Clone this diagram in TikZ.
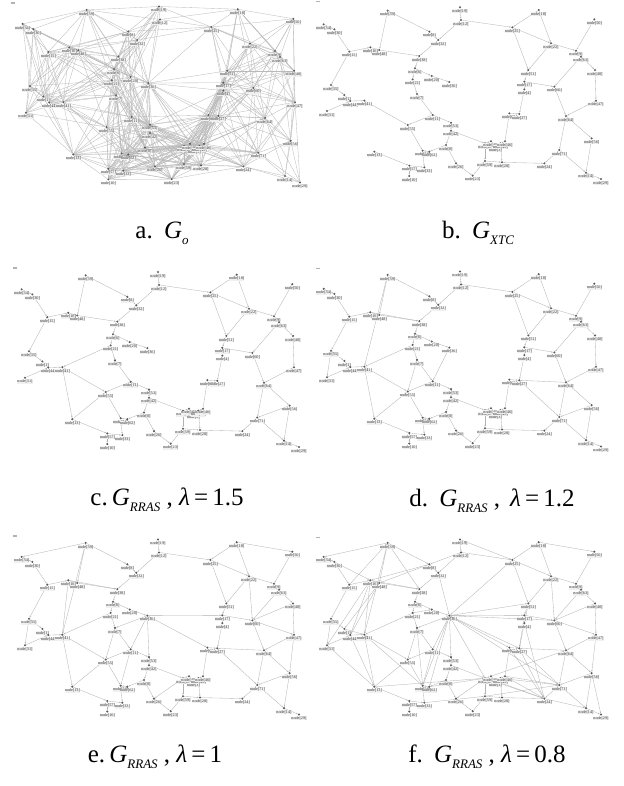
\documentclass[tikz,border=0pt]{standalone}
\usepackage{fontspec}
\setmainfont{Liberation Serif}
\usetikzlibrary{arrows.meta}
\pgfdeclarelayer{bg}
\pgfsetlayers{bg,main}
\newcommand\capsub[1]{\raisebox{-0.24em}{\fontsize{13}{13}\selectfont\itshape #1}}
\def\NL{19/447/22, 12/450/60, 25/604/82, 18/683/30, 39/230/32, 34/38/73, 30/70/88, 8/355/95, 32/382/120, 15/115/155, 16/178/142, 48/205/150, 38/325/168, 6/312/205, 20/362/228, 21/305/238, 36/415/246, 7/318/282, 35/60/255, 1/100/285, 44/118/303, 41/160/302, 31/48/333, 11/365/345, 55/290/375, 53/420/368, 42/420/392, 0/405/435, 52/335/452, 62/355/455, 26/435/490, 13/190/455, 57/295/497, 33/340/502, 10/295/528, 23/485/527, 59/522/483, 28/573/487, 24/700/490, 2/522/430, 45/540/424, 3/553/438, 43/568/430, 46/582/424, 65/595/340, 27/625/342, 51/652/210, 17/640/245, 4/640/268, 60/730/260, 22/720/130, 9/795/152, 63/810/170, 50/850/58, 40/852/210, 47/855/302, 64/765/348, 56/842/415, 71/745/450, 14/825/518, 29/870/537}
\def\Eb{19/12, 12/25, 12/32, 8/32, 39/8, 39/48, 34/30, 30/15, 15/16, 16/48, 48/38, 32/38, 38/6, 6/20, 20/36, 6/21, 21/7, 7/11, 11/55, 11/53, 53/42, 42/0, 0/62, 62/52, 0/26, 55/52, 41/55, 44/41, 15/35, 35/1, 1/44, 31/44, 52/33, 13/57, 57/10, 57/33, 26/23, 23/59, 42/2, 2/59, 2/45, 45/3, 3/43, 43/46, 43/28, 59/28, 28/24, 46/65, 65/27, 4/27, 51/17, 17/4, 25/51, 18/25, 18/22, 25/22, 22/51, 22/9, 50/9, 9/63, 63/40, 63/60, 17/60, 40/47, 47/64, 60/64, 64/56, 64/71, 71/24, 56/14, 71/14, 14/29}
\def\Ec{21/41, 41/13, 13/55, 56/71}
\def\Ed{39/41, 36/11, 7/55, 64/27, 27/71, 35/31, 16/38}
\def\Ee{39/34, 18/50, 36/17, 36/53, 36/65, 22/60, 40/60, 60/47, 11/52, 2/26, 16/41, 47/56, 36/7}
\def\Ef{19/25, 25/36, 39/38, 8/16, 8/48, 16/31, 48/44, 16/44, 48/1, 32/36, 36/51, 36/60, 36/27, 36/2, 36/71, 36/52, 36/62, 31/13, 44/13, 41/52, 7/52, 13/2, 62/2, 2/24, 46/71, 46/24, 27/24, 65/24, 4/24, 33/59, 24/14, 56/29, 17/27, 51/4, 21/20, 12/8, 15/39, 30/16, 1/41, 43/71, 3/24, 45/64, 59/71}
\def\RR{70}
\newcommand\placenodes[1]{%
  \foreach \id/\zx/\zy in \NL {%
    \node[dot] (#1\id) at (\zx/3,\zy/3) {};
    \node[lab] (#1\id-l) at ([yshift=-0.5pt]#1\id.south) {node[\id]};
  }}
\newcommand\drawedges[2]{%
  \begin{pgfonlayer}{bg}
  \foreach \u/\v in #2 {\draw[edge] (#1\u) -- (#1\v);}
  \end{pgfonlayer}}
\begin{document}
\begin{tikzpicture}[x=1pt,y=-1pt,
  dot/.style={circle,fill=black!65,inner sep=0pt,minimum size=2.3pt},
  lab/.style={anchor=north,inner sep=0.15pt,fill=gray!12,text=black!80,font=\fontsize{4.2}{4.2}\selectfont},
  edge/.style={draw=gray!60,line width=0.32pt,-{Stealth[length=1.8pt,width=1.3pt]}},
  edgeA/.style={draw=gray!55,line width=0.32pt},
  captext/.style={anchor=base,inner sep=0pt,font=\fontsize{25}{30}\selectfont},
  pmarker/.style={fill=gray!60,minimum width=4pt,minimum height=1.3pt,inner sep=0pt}]
\begin{pgfonlayer}{bg}
\fill[white] (0,0) rectangle (623,786);
\end{pgfonlayer}
\useasboundingbox (0,0) rectangle (623,786);
% panel a
\begin{scope}[shift={(10,-1)},yscale=1.025]
\placenodes{a}
\begin{pgfonlayer}{bg}
\foreach \i/\xi/\yi [count=\ci] in \NL {
  \foreach \j/\xj/\yj [count=\cj] in \NL {
    \ifnum\cj>\ci
      \pgfmathsetmacro\dd{((\xj-\xi)/30)*((\xj-\xi)/30)+((\yj-\yi)/30)*((\yj-\yi)/30)}
      \ifdim\dd pt<\RR pt \draw[edgeA] (a\i) -- (a\j);\fi
    \fi
  }
}
\end{pgfonlayer}
\end{scope}
% panel b
\begin{scope}[shift={(311,0)}]
\placenodes{b}
\drawedges{b}{\Eb}
\end{scope}
% panel c
\begin{scope}[shift={(9,264.5)},yscale=1.02]
\placenodes{c}
\drawedges{c}{\Eb}
\drawedges{c}{\Ec}
\end{scope}
% panel d
\begin{scope}[shift={(311,264)},yscale=1.02]
\placenodes{d}
\drawedges{d}{\Eb}
\drawedges{d}{\Ec}
\drawedges{d}{\Ed}
\end{scope}
% panel e
\begin{scope}[shift={(9,532)},yscale=1.02]
\placenodes{e}
\drawedges{e}{\Eb}
\drawedges{e}{\Ec}
\drawedges{e}{\Ed}
\drawedges{e}{\Ee}
\end{scope}
% panel f
\begin{scope}[shift={(311,532)},yscale=1.02]
\placenodes{f}
\drawedges{f}{\Eb}
\drawedges{f}{\Ec}
\drawedges{f}{\Ed}
\drawedges{f}{\Ee}
\drawedges{f}{\Ef}
\end{scope}
% panel markers
\node[pmarker] (ma) at (13,3) {};
\node[pmarker] (mb) at (318,1.5) {};
\node[pmarker] (mc) at (15,268) {};
\node[pmarker] (md) at (318,268.5) {};
\node[pmarker] (me) at (15,536) {};
\node[pmarker] (mf) at (318,537.5) {};
% captions
\node[captext] (capa) at (162,238) {a.\hspace{0.45em}\textit{G}\capsub{o}};
\node[captext] (capb) at (478,238) {b.\hspace{0.45em}\textit{G}\capsub{XTC}};
\node[captext] (capc) at (167,505) {c.\,\textit{G}\capsub{RRAS} , \textit{λ}\,=\,1.5};
\node[captext] (capd) at (492,506) {d.\hspace{0.45em}\textit{G}\capsub{RRAS} ,\hspace{0.4em}\textit{λ}\,=\,1.2};
\node[captext] (cape) at (155,762) {e.\,\textit{G}\capsub{RRAS} , \textit{λ}\,=\,1};
\node[captext] (capf) at (487,762) {f.\hspace{0.45em}\textit{G}\capsub{RRAS} , \textit{λ}\,=\,0.8};
\end{tikzpicture}
\end{document}
